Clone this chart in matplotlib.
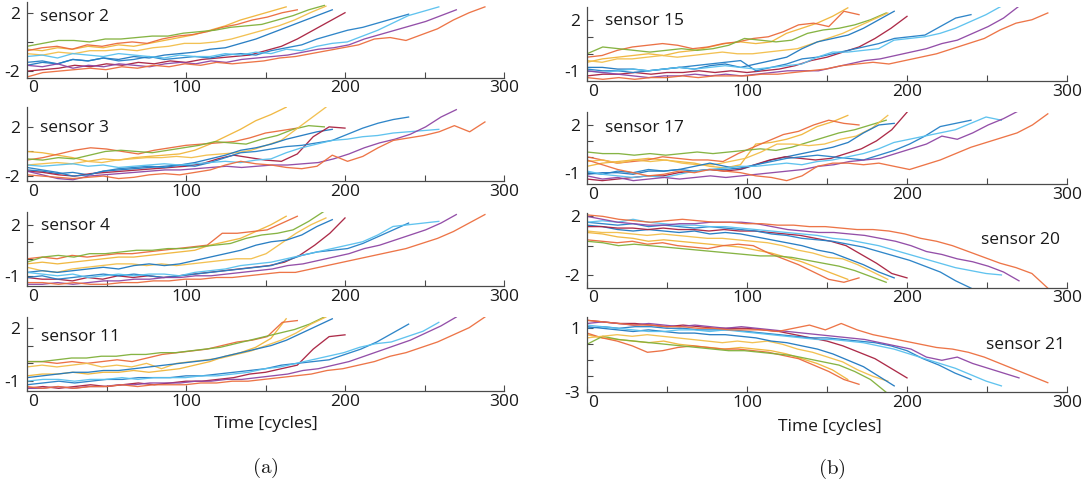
import numpy as np
import matplotlib
matplotlib.use("Agg")
import matplotlib.pyplot as plt
import matplotlib.transforms as mtransforms

plt.rcParams['font.family'] = ['Open Sans', 'DejaVu Sans']
plt.rcParams['mathtext.fontset'] = 'cm'

# Run-to-failure lifetimes of the ten units (cycles) and their line colours
lifetimes = [163, 170, 187, 188, 192, 200, 240, 259, 270, 288]
unit_colors = ['#F0B53A', '#EA6A3C', '#80B03A', '#F2BE4A', '#1F78C0',
               '#A8203F', '#2580C6', '#58C0EE', '#8E46A4', '#EC6E3E']

# Normalised sensor readings per unit, sampled evenly over each lifetime
sensor_2 = [
    [-0.5, -0.6, -0.4, -0.5, -0.3, -0.4, -0.2, -0.3, -0.1, 0.1, 0.3, 0.5, 0.8, 1.1, 1.5, 1.8, 2.1, 2.4],
    [-0.6, -0.4, -0.3, -0.5, -0.2, -0.3, -0.1, 0.0, -0.1, 0.2, 0.4, 0.5, 0.7, 1.0, 1.2, 1.5, 1.7, 2.0, 2.2],
    [-0.3, -0.1, 0.1, 0.1, 0.0, 0.2, 0.2, 0.3, 0.4, 0.4, 0.6, 0.7, 0.8, 1.0, 1.1, 1.2, 1.5, 1.8, 2.2, 2.5],
    [-0.8, -0.9, -0.7, -0.8, -0.6, -0.6, -0.5, -0.6, -0.4, -0.3, -0.1, -0.1, 0.0, 0.2, 0.5, 0.8, 1.1, 1.5, 2.0, 2.45],
    [-1.6, -1.4, -1.5, -1.2, -1.3, -1.1, -1.2, -1.0, -1.1, -0.9, -0.8, -0.7, -0.5, -0.4, -0.1, 0.2, 0.6, 1.0, 1.4, 1.8, 2.2],
    [-2.0, -1.9, -1.8, -1.6, -1.7, -1.5, -1.6, -1.4, -1.5, -1.3, -1.4, -1.2, -1.1, -1.0, -0.9, -0.6, -0.3, 0.2, 0.8, 1.4, 2.0],
    [-1.4, -1.3, -1.5, -1.2, -1.3, -1.1, -1.3, -1.2, -1.0, -1.2, -1.1, -1.0, -1.1, -0.9, -0.8, -0.9, -0.6, -0.4, -0.2, 0.2, 0.5, 0.8, 1.0, 1.3, 1.6, 1.9],
    [-1.0, -0.9, -1.1, -0.8, -0.9, -1.0, -0.8, -0.9, -1.0, -1.1, -0.9, -1.0, -1.0, -0.8, -0.9, -0.7, -0.8, -0.5, -0.6, -0.3, -0.1, 0.0, 0.4, 0.8, 1.3, 1.8, 2.1, 2.4],
    [-1.6, -1.7, -1.5, -1.8, -1.6, -1.7, -1.5, -1.6, -1.7, -1.5, -1.4, -1.5, -1.3, -1.4, -1.2, -1.1, -1.0, -0.9, -0.7, -0.5, -0.4, -0.2, 0.2, 0.5, 0.8, 1.1, 1.4, 1.8, 2.2],
    [-2.4, -2.1, -2.0, -1.9, -1.8, -1.9, -1.7, -1.8, -1.6, -1.7, -1.5, -1.6, -1.4, -1.5, -1.4, -1.3, -1.1, -1.0, -0.8, -0.6, -0.4, -0.2, 0.2, 0.3, 0.1, 0.5, 0.9, 1.5, 2.0, 2.4],
]
sensor_3 = [
    [0.0, -0.1, -0.3, -0.5, -0.8, -0.6, -0.7, -0.5, -0.4, -0.3, -0.2, 0.1, 0.6, 1.2, 1.8, 2.5, 3.0, 3.6],
    [-0.7, -0.5, -0.2, 0.1, 0.3, 0.2, 0.0, -0.2, 0.1, 0.3, 0.5, 0.6, 0.7, 0.8, 1.1, 1.5, 1.7, 1.9],
    [-0.6, -0.7, -0.5, -0.6, -0.3, 0.0, 0.1, 0.0, -0.1, 0.1, 0.3, 0.5, 0.8, 0.7, 0.6, 1.0, 1.3, 1.8, 2.1, 2.0],
    [-1.1, -1.0, -0.9, -1.0, -0.8, -0.9, -0.7, -0.6, -0.5, -0.5, -0.4, -0.5, -0.3, -0.2, -0.1, 0.1, 0.5, 0.9, 1.8, 2.7, 3.6],
    [-1.5, -1.6, -1.8, -1.7, -1.9, -1.6, -1.5, -1.4, -1.3, -1.2, -1.1, -0.9, -0.6, -0.3, 0.1, 0.3, 0.6, 1.0, 1.3, 1.6, 1.8],
    [-1.6, -1.7, -1.9, -2.0, -1.8, -1.7, -1.6, -1.5, -1.4, -1.3, -1.2, -1.0, -0.6, -0.3, -0.5, -0.7, -0.8, -0.2, 1.2, 2.0, 1.9],
    [-1.3, -1.5, -1.7, -2.0, -1.9, -1.6, -1.4, -1.3, -1.2, -1.3, -1.1, -1.2, -0.9, -0.5, -0.1, 0.0, 0.2, 0.4, 0.5, 0.7, 0.9, 1.4, 1.9, 2.3, 2.6, 2.8],
    [-1.1, -1.2, -1.1, -1.0, -1.2, -1.1, -1.3, -1.2, -1.1, -1.0, -1.1, -1.0, -0.9, -0.8, -0.9, -0.7, -0.6, -0.1, 0.3, 0.6, 0.9, 1.0, 1.2, 1.3, 1.5, 1.6, 1.7, 1.8],
    [-1.6, -1.9, -2.2, -2.3, -2.0, -1.9, -1.8, -1.7, -1.6, -1.5, -1.5, -1.4, -1.3, -1.2, -1.3, -1.2, -1.1, -1.1, -1.0, -0.9, -0.6, -0.2, 0.3, 0.7, 1.0, 1.4, 2.0, 2.8, 3.4],
    [-1.9, -2.0, -2.1, -2.2, -2.1, -2.0, -2.2, -2.1, -1.9, -1.8, -1.9, -1.7, -1.5, -1.1, -0.8, -1.0, -1.1, -1.3, -1.4, -1.2, -0.3, -0.8, -0.4, 0.3, 0.9, 1.1, 1.3, 1.6, 2.1, 1.6, 2.4],
]
sensor_4 = [
    [-0.3, -0.2, -0.3, -0.2, -0.1, 0.0, 0.1, 0.1, 0.2, 0.3, 0.4, 0.5, 0.8, 1.0, 1.2, 1.6, 2.0, 2.5],
    [0.0, 0.1, 0.0, 0.2, 0.1, 0.2, 0.3, 0.3, 0.4, 0.5, 0.6, 0.7, 0.8, 1.5, 1.5, 1.6, 1.7, 2.1, 2.5],
    [-0.2, 0.1, 0.2, 0.1, 0.3, 0.3, 0.4, 0.5, 0.5, 0.6, 0.6, 0.7, 0.8, 0.9, 1.2, 1.4, 1.5, 1.7, 2.2, 2.8],
    [-0.5, -0.7, -0.8, -0.6, -0.5, -0.4, -0.3, -0.3, -0.4, -0.3, -0.4, -0.3, -0.2, -0.1, 0.0, 0.0, 0.3, 0.9, 1.5, 2.0, 2.4],
    [-0.8, -0.7, -0.8, -0.7, -0.6, -0.5, -0.6, -0.4, -0.3, -0.4, -0.3, -0.1, 0.1, 0.3, 0.5, 0.8, 1.0, 1.1, 1.4, 1.9, 2.3],
    [-1.1, -1.2, -1.2, -1.3, -1.1, -1.2, -1.0, -1.1, -1.0, -1.1, -1.0, -0.9, -0.8, -0.7, -0.6, -0.5, -0.4, -0.2, 0.2, 0.8, 1.5, 2.4],
    [-1.1, -1.0, -1.2, -1.1, -1.0, -0.9, -1.0, -0.9, -1.0, -1.1, -1.0, -0.9, -0.8, -0.7, -0.6, -0.5, -0.4, -0.1, 0.2, 0.4, 0.5, 0.6, 0.9, 1.3, 1.7, 2.1],
    [-0.8, -0.9, -1.0, -0.9, -1.1, -1.0, -0.9, -1.0, -0.9, -0.9, -1.0, -0.8, -0.7, -0.6, -0.4, -0.3, -0.2, 0.0, 0.2, 0.4, 0.6, 0.8, 1.0, 1.4, 1.9, 2.0, 2.1, 2.2],
    [-1.5, -1.5, -1.4, -1.5, -1.4, -1.3, -1.3, -1.2, -1.2, -1.1, -1.1, -1.0, -1.0, -0.9, -0.8, -0.7, -0.6, -0.4, -0.3, -0.1, 0.1, 0.3, 0.6, 0.8, 1.1, 1.4, 1.7, 2.1, 2.6],
    [-1.4, -1.4, -1.5, -1.4, -1.5, -1.5, -1.4, -1.4, -1.3, -1.3, -1.2, -1.2, -1.1, -1.1, -1.0, -0.9, -0.8, -0.8, -0.6, -0.4, -0.2, 0.0, 0.2, 0.4, 0.6, 0.9, 1.2, 1.6, 2.1, 2.6],
]
sensor_11 = [
    [-0.7, -0.6, -0.6, -0.5, -0.6, -0.5, -0.5, -0.4, -0.5, -0.4, -0.3, -0.1, 0.1, 0.4, 0.6, 0.9, 1.4, 2.5],
    [0.1, 0.1, 0.0, 0.1, 0.0, 0.1, 0.2, 0.1, 0.3, 0.5, 0.6, 0.7, 0.8, 1.0, 1.2, 1.3, 1.5, 2.3, 2.4],
    [0.1, 0.1, 0.2, 0.3, 0.3, 0.4, 0.4, 0.5, 0.5, 0.6, 0.6, 0.7, 0.8, 0.9, 1.1, 1.3, 1.5, 1.7, 1.9, 2.2, 2.6],
    [-0.2, -0.1, -0.2, -0.1, 0.0, -0.2, -0.1, -0.2, 0.0, -0.3, 0.0, 0.1, 0.2, 0.3, 0.5, 0.7, 1.0, 1.3, 1.7, 2.2, 2.6],
    [-0.8, -0.7, -0.6, -0.5, -0.5, -0.4, -0.4, -0.3, -0.2, -0.1, 0.0, 0.1, 0.2, 0.4, 0.6, 0.8, 1.0, 1.3, 1.7, 2.1, 2.5],
    [-1.4, -1.3, -1.4, -1.3, -1.2, -1.3, -1.2, -1.1, -1.2, -1.1, -1.0, -1.0, -0.9, -0.8, -0.6, -0.5, -0.3, -0.1, 0.8, 1.5, 1.6],
    [-1.2, -1.1, -1.0, -1.1, -1.0, -0.9, -0.9, -0.8, -0.8, -0.8, -0.7, -0.7, -0.6, -0.5, -0.4, -0.3, -0.1, 0.0, 0.1, 0.2, 0.5, 0.8, 1.2, 1.7, 2.2],
    [-1.0, -0.9, -0.9, -1.0, -0.9, -0.9, -0.8, -0.9, -0.8, -0.8, -0.8, -0.7, -0.7, -0.6, -0.5, -0.3, -0.2, 0.0, 0.2, 0.4, 0.6, 0.9, 1.1, 1.2, 1.5, 1.8, 2.3],
    [-1.4, -1.4, -1.3, -1.4, -1.3, -1.3, -1.2, -1.2, -1.1, -1.1, -1.1, -1.0, -1.0, -0.9, -0.9, -0.8, -0.7, -0.6, -0.4, -0.3, -0.1, 0.1, 0.4, 0.7, 1.0, 1.3, 1.7, 2.1, 2.6],
    [-1.3, -1.4, -1.3, -1.4, -1.3, -1.3, -1.2, -1.3, -1.2, -1.2, -1.2, -1.1, -1.1, -1.0, -1.0, -0.9, -0.8, -0.7, -0.6, -0.4, -0.3, -0.1, 0.1, 0.4, 0.6, 0.9, 1.2, 1.6, 2.0, 2.6],
]
sensor_15 = [
    [-0.5, -0.3, -0.2, -0.1, 0.0, -0.1, 0.1, 0.2, 0.4, 0.6, 0.7, 0.6, 0.7, 1.2, 1.5, 1.8, 2.2, 2.7],
    [-0.2, -0.1, 0.2, 0.4, 0.5, 0.6, 0.5, 0.3, 0.4, 0.6, 0.7, 0.9, 1.0, 1.3, 1.7, 1.8, 1.6, 2.5, 2.3],
    [0.0, 0.4, 0.3, 0.2, 0.1, 0.2, 0.3, 0.2, 0.3, 0.5, 0.9, 0.8, 0.7, 0.8, 1.2, 1.4, 1.5, 1.7, 2.0, 2.4],
    [-0.4, -0.5, -0.3, -0.3, -0.2, -0.1, -0.2, -0.1, 0.0, 0.1, 0.0, 0.0, 0.1, 0.2, 0.3, 0.6, 0.9, 1.2, 1.6, 2.0, 2.4],
    [-0.8, -0.8, -0.9, -0.9, -1.0, -0.9, -0.8, -0.9, -0.7, -0.6, -0.8, -0.6, -0.4, -0.2, 0.3, 0.7, 0.9, 1.1, 1.5, 2.0, 2.5],
    [-1.3, -1.2, -1.2, -1.1, -1.2, -1.1, -1.1, -1.0, -1.1, -1.0, -1.1, -1.0, -0.9, -0.7, -0.4, -0.2, 0.1, 0.4, 0.9, 1.5, 2.2],
    [-0.9, -1.0, -1.0, -1.1, -1.0, -0.9, -0.8, -0.7, -0.6, -0.5, -0.4, -1.0, -0.8, -0.6, -0.3, -0.2, 0.0, 0.2, 0.4, 0.6, 0.9, 1.0, 1.1, 1.6, 2.1, 2.3],
    [-1.0, -1.1, -1.0, -0.9, -1.0, -0.9, -0.8, -0.9, -0.8, -0.7, -0.8, -0.9, -0.8, -0.7, -0.6, -0.2, 0.1, 0.1, 0.2, 0.3, 0.8, 0.9, 1.0, 1.2, 1.5, 1.9, 2.3, 2.8],
    [-1.0, -1.1, -1.2, -1.3, -1.4, -1.3, -1.3, -1.2, -1.3, -1.2, -1.3, -1.2, -1.1, -1.0, -1.0, -1.0, -0.8, -0.6, -0.4, -0.3, -0.1, 0.1, 0.3, 0.6, 0.8, 1.2, 1.6, 2.1, 2.8],
    [-1.4, -1.5, -1.4, -1.5, -1.4, -1.4, -1.3, -1.4, -1.3, -1.3, -1.3, -1.2, -1.2, -1.1, -1.0, -0.9, -0.7, -0.6, -0.5, -0.6, -0.4, -0.2, 0.0, 0.3, 0.6, 0.9, 1.4, 1.8, 2.0, 2.4],
]
sensor_17 = [
    [-0.6, -0.4, -0.3, -0.2, -0.1, -0.2, -0.3, -0.4, -0.6, -0.7, -0.5, 0.8, 0.9, 1.1, 1.4, 1.9, 2.2, 2.6],
    [0.0, -0.2, -0.4, -0.3, -0.2, 0.0, -0.1, -0.2, -0.2, -0.3, 0.2, 0.6, 1.0, 1.4, 1.6, 2.0, 2.3, 2.1, 2.0],
    [0.3, 0.2, 0.2, 0.1, 0.2, 0.1, 0.2, 0.3, 0.2, 0.3, 0.4, 0.5, 0.4, 0.6, 0.9, 1.2, 1.5, 1.7, 2.0, 2.3],
    [-0.3, -0.2, -0.4, -0.2, -0.3, -0.2, -0.4, -0.5, -0.5, -0.3, -0.1, 0.3, 0.8, 0.8, 0.7, 0.8, 1.1, 1.3, 1.8, 2.6],
    [-1.1, -1.0, -1.0, -1.1, -0.9, -0.9, -0.8, -0.6, -0.4, -0.6, -0.8, -0.5, -0.2, 0.0, 0.2, 0.4, 0.6, 0.9, 1.5, 2.0, 2.1],
    [-1.4, -1.5, -1.4, -1.3, -1.2, -1.2, -1.0, -0.9, -0.8, -0.9, -0.8, -0.5, -0.2, 0.0, -0.1, -0.2, -0.1, 0.2, 0.5, 1.0, 1.7, 2.8],
    [-1.0, -1.1, -0.9, -1.0, -0.8, -0.9, -0.8, -0.9, -0.8, -0.8, -0.7, -0.5, -0.3, -0.1, 0.0, 0.1, 0.0, -0.1, -0.2, 0.1, 0.4, 0.8, 1.3, 1.9, 2.1, 2.3],
    [-0.9, -1.1, -1.2, -1.3, -1.2, -1.3, -1.1, -0.9, -0.8, -0.7, -0.6, -0.6, -0.5, -0.4, -0.5, -0.3, -0.2, 0.0, 0.2, 0.5, 0.9, 1.1, 1.3, 1.5, 1.7, 2.1, 2.5, 2.3],
    [-1.2, -1.4, -1.3, -1.5, -1.4, -1.3, -1.4, -1.3, -1.2, -1.3, -1.2, -1.1, -1.0, -0.9, -0.8, -0.6, -0.5, -0.3, -0.2, -0.1, 0.2, 0.5, 0.8, 1.3, 1.1, 1.5, 2.0, 2.4, 2.9],
    [-0.2, -0.5, -0.8, -1.0, -1.2, -1.1, -0.9, -1.0, -0.8, -0.9, -1.0, -1.2, -1.3, -1.5, -1.2, -0.6, -0.4, -0.4, -0.5, -0.4, -0.6, -0.8, -0.5, -0.2, 0.2, 0.6, 0.9, 1.2, 1.5, 2.0, 2.7],
]
sensor_20 = [
    [0.9, 0.8, 0.6, 0.5, 0.3, 0.4, 0.3, 0.2, 0.1, 0.0, -0.1, -0.3, -0.5, -0.8, -1.1, -1.5, -1.9, -2.3],
    [0.4, 0.3, 0.2, 0.3, 0.1, 0.2, 0.0, -0.1, -0.2, 0.0, 0.1, 0.0, -0.5, -0.9, -1.3, -1.8, -2.3, -2.5, -2.2],
    [0.3, 0.2, 0.0, 0.1, 0.0, -0.1, -0.2, -0.3, -0.4, -0.5, -0.6, -0.7, -0.7, -0.8, -1.0, -1.2, -1.4, -1.7, -2.1, -2.5],
    [1.0, 0.9, 0.9, 0.8, 0.7, 0.8, 0.7, 0.6, 0.5, 0.5, 0.4, 0.3, 0.2, 0.0, -0.3, -0.5, -0.8, -0.9, -1.3, -1.8, -2.3],
    [1.4, 1.3, 1.1, 1.0, 1.1, 1.0, 0.9, 1.0, 0.8, 0.9, 0.8, 0.6, 0.4, 0.2, 0.0, -0.3, -0.5, -0.9, -1.3, -1.8, -2.2],
    [1.3, 1.3, 1.2, 1.2, 1.1, 1.2, 1.1, 1.1, 1.0, 1.1, 1.0, 1.0, 0.9, 0.8, 0.7, 0.5, 0.3, 0.0, -0.6, -1.2, -1.9, -2.2],
    [1.6, 1.5, 1.4, 1.5, 1.3, 1.4, 1.3, 1.2, 1.3, 1.2, 1.1, 1.0, 0.8, 0.7, 0.5, 0.4, 0.3, 0.1, -0.1, -0.4, -0.7, -1.0, -1.4, -1.8, -2.4, -2.9],
    [1.6, 1.7, 1.6, 1.8, 1.6, 1.5, 1.4, 1.4, 1.3, 1.3, 1.2, 1.1, 1.0, 0.9, 0.8, 0.7, 0.5, 0.4, 0.2, 0.0, -0.3, -0.6, -0.9, -1.2, -1.5, -1.7, -1.9, -2.0],
    [2.0, 1.8, 1.6, 1.5, 1.4, 1.4, 1.5, 1.5, 1.6, 1.6, 1.6, 1.5, 1.3, 1.1, 1.0, 0.9, 0.9, 0.8, 0.7, 0.5, 0.3, 0.0, -0.4, -0.6, -0.9, -1.1, -1.4, -1.8, -2.4],
    [2.1, 2.0, 1.8, 1.7, 1.6, 1.7, 1.8, 1.7, 1.6, 1.6, 1.5, 1.5, 1.4, 1.4, 1.3, 1.3, 1.2, 1.1, 1.1, 1.0, 0.8, 0.5, 0.3, 0.0, -0.4, -0.8, -1.2, -1.5, -1.9, -2.9],
]
sensor_21 = [
    [0.6, 0.4, 0.3, 0.2, 0.1, 0.2, 0.0, -0.1, -0.2, -0.3, -0.2, -0.3, -0.4, -0.6, -0.9, -1.2, -1.6, -2.2],
    [0.7, 0.4, 0.2, -0.1, -0.5, -0.4, -0.2, -0.1, -0.2, -0.3, -0.3, -0.4, -0.5, -0.7, -0.9, -1.3, -1.7, -2.2, -2.5],
    [0.0, 0.5, 0.3, 0.2, 0.1, 0.0, -0.1, -0.2, -0.3, -0.4, -0.4, -0.5, -0.6, -0.7, -0.9, -1.1, -1.3, -1.7, -2.2, -3.0],
    [0.4, 0.5, 0.6, 0.5, 0.6, 0.5, 0.4, 0.3, 0.2, 0.1, 0.2, 0.1, 0.2, 0.0, -0.3, -0.5, -0.8, -1.1, -1.6, -2.0, -2.3],
    [1.1, 1.0, 0.9, 0.8, 0.9, 0.8, 0.7, 0.7, 0.6, 0.6, 0.5, 0.4, 0.2, 0.1, -0.1, -0.3, -0.6, -1.0, -1.4, -2.0, -2.6],
    [1.5, 1.4, 1.3, 1.3, 1.2, 1.1, 1.2, 1.1, 1.0, 1.0, 1.0, 0.9, 0.8, 0.6, 0.4, 0.2, -0.1, -0.5, -0.9, -1.5, -2.1],
    [1.0, 1.1, 1.0, 1.1, 1.1, 1.0, 1.0, 0.9, 0.9, 0.9, 0.8, 0.7, 0.6, 0.5, 0.4, 0.4, 0.3, 0.2, 0.1, -0.1, -0.4, -0.9, -1.3, -1.8, -2.2],
    [1.2, 1.1, 1.0, 0.9, 0.8, 0.8, 0.9, 0.9, 0.8, 0.9, 0.8, 0.7, 0.6, 0.5, 0.4, 0.3, 0.3, 0.2, 0.1, -0.1, -0.3, -0.6, -0.9, -1.2, -1.5, -1.9, -2.3, -2.6],
    [1.3, 1.4, 1.3, 1.2, 1.3, 1.2, 1.1, 1.2, 1.1, 1.0, 1.1, 1.0, 0.9, 0.8, 0.7, 0.6, 0.5, 0.4, 0.3, 0.1, -0.1, -0.3, -0.8, -1.0, -0.8, -1.2, -1.5, -1.8, -2.1],
    [1.5, 1.4, 1.3, 1.2, 1.2, 1.1, 1.1, 1.0, 1.0, 0.9, 0.9, 0.9, 0.8, 1.0, 1.2, 0.9, 1.3, 0.9, 0.6, 0.4, 0.2, 0.0, -0.2, -0.3, -0.5, -0.8, -1.2, -1.6, -2.0, -2.4],
]

# Axis settings per panel: name, readings, y-limits, y-ticks, labelled y-ticks
x_ticks = [0, 50, 100, 150, 200, 250, 300]
x_tick_labels = ['0', '', '100', '', '200', '', '300']

panels_a = [
    ('sensor 2', sensor_2, (-2.45, 2.7), [-2, 0, 2], ['-2', '', '2']),
    ('sensor 3', sensor_3, (-2.4, 3.6), [-2, 0, 2], ['-2', '', '2']),
    ('sensor 4', sensor_4, (-1.6, 2.75), [-1, 0, 1, 2], ['-1', '', '', '2']),
    ('sensor 11', sensor_11, (-1.55, 2.6), [-1, 0, 1, 2], ['-1', '', '', '2']),
]
panels_b = [
    ('sensor 15', sensor_15, (-1.6, 2.75), [-1, 0, 1, 2], ['-1', '', '', '2']),
    ('sensor 17', sensor_17, (-1.73, 2.84), [-1, 0, 1, 2], ['-1', '', '', '2']),
    ('sensor 20', sensor_20, (-2.87, 2.23), [-2, 0, 2], ['-2', '', '2']),
    ('sensor 21', sensor_21, (-3.0, 1.73), [-3, -2, -1, 0, 1], ['-3', '', '', '', '1']),
]

W, H = 1091, 490
fig = plt.figure(figsize=(W / 100, H / 100), dpi=100)

# pixel boxes (left, right, bottom, top) of each panel
boxes_a = [(27, 504, 77.7, 2.5), (27, 504, 181, 107.2), (27, 504, 286, 212), (27, 504, 391, 317)]
boxes_b = [(587, 1067, 81, 7), (587, 1067, 184.3, 111.6), (587, 1067, 287.7, 213), (587, 1067, 392.3, 316.6)]
label_pos_a = [(0.028, 0.81, 'left'), (0.028, 0.72, 'left'), (0.03, 0.81, 'left'), (0.03, 0.73, 'left')]
label_pos_b = [(0.037, 0.81, 'left'), (0.037, 0.77, 'left'), (0.985, 0.64, 'right'), (0.995, 0.625, 'right')]

spine_color = '#4a4a4a'


def draw_panel(box, panel, label_pos):
    left, right, bottom, top = box
    name, series, ylim, yticks, ylabels = panel
    ax = fig.add_axes([left / W, 1 - bottom / H, (right - left) / W, (bottom - top) / H])
    for life, color, vals in zip(lifetimes, unit_colors, series):
        t = np.linspace(0, life, len(vals))
        ax.plot(t, vals, color=color, lw=0.95, alpha=0.95, solid_joinstyle='round')
    ax.set_xlim(0, 300)
    ax.set_ylim(*ylim)
    ax.set_xticks(x_ticks)
    ax.set_xticklabels(x_tick_labels)
    ax.set_yticks(yticks)
    ax.set_yticklabels(ylabels)
    for s in ('top', 'right'):
        ax.spines[s].set_visible(False)
    for s in ('left', 'bottom'):
        ax.spines[s].set_color(spine_color)
        ax.spines[s].set_linewidth(0.9)
    ax.tick_params(direction='in', length=4, width=0.8, color=spine_color,
                   labelsize=12.5, labelcolor='#1a1a1a')
    ax.tick_params(axis='x', pad=2)
    ax.tick_params(axis='y', pad=5)
    ax.set_facecolor('none')
    # nudge the "0" tick label to the right
    lbl0 = ax.get_xticklabels()[0]
    lbl0.set_transform(lbl0.get_transform() +
                       mtransforms.ScaledTranslation(6 / 100, 0, fig.dpi_scale_trans))
    lx, ly, ha = label_pos
    ax.text(lx, ly, name, transform=ax.transAxes, ha=ha, va='center',
            fontsize=12.5, color='#1a1a1a')
    return ax


for box, panel, lp in zip(boxes_a, panels_a, label_pos_a):
    draw_panel(box, panel, lp)
for box, panel, lp in zip(boxes_b, panels_b, label_pos_b):
    draw_panel(box, panel, lp)

fig.text(266 / W, 1 - 424 / H, 'Time [cycles]', ha='center', va='center', fontsize=12.5, color='#1a1a1a')
fig.text(830 / W, 1 - 427 / H, 'Time [cycles]', ha='center', va='center', fontsize=12.5, color='#1a1a1a')
fig.text(265 / W, 1 - 468 / H, r'$\mathrm{(a)}$', ha='center', va='center', fontsize=15, color='#1a1a1a')
fig.text(832 / W, 1 - 469 / H, r'$\mathrm{(b)}$', ha='center', va='center', fontsize=15, color='#1a1a1a')

fig.savefig('out.png', dpi=100, facecolor='white')
